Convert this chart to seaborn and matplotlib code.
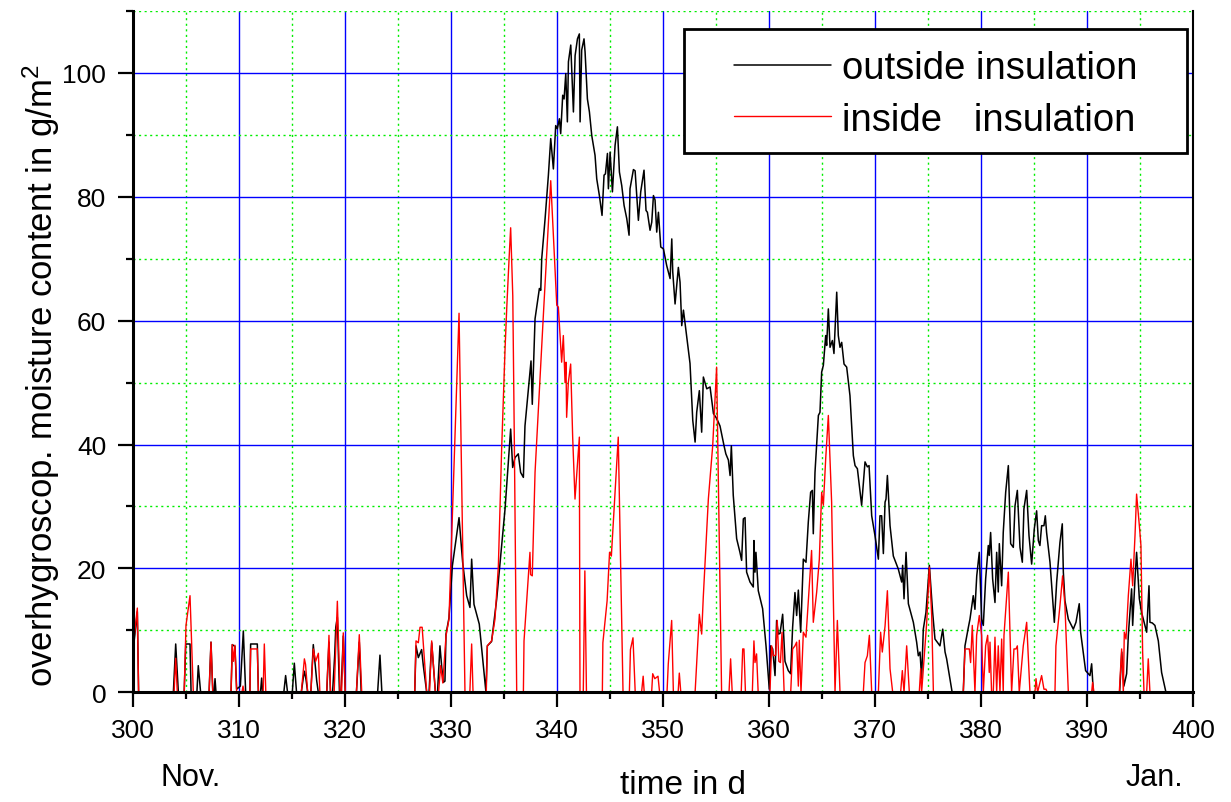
import matplotlib
matplotlib.use("Agg")
import matplotlib.pyplot as plt
from matplotlib.ticker import MultipleLocator
from matplotlib.patches import Rectangle
import seaborn as sns
import pandas as pd

# moisture content outside the insulation layer (day, g/m2)
outside_day = [
    300.0, 300.38, 300.5, 303.78, 304.0, 304.25, 304.8, 304.95, 305.35, 305.45,
    306.0, 306.13, 306.35, 307.15, 307.33, 307.5, 307.62, 307.71, 307.8, 309.22,
    309.34, 309.59, 309.75, 310.1, 310.38, 310.6, 311.0, 311.07, 311.7, 311.8,
    312.0, 312.11, 312.2, 314.2, 314.37, 314.55, 315.0, 315.19, 315.4, 315.85,
    316.05, 316.15, 316.3, 316.45, 316.75, 316.98, 317.3, 317.45, 318.25, 318.46,
    318.6, 318.8, 319.0, 319.1, 319.25, 319.45, 319.6, 319.81, 320.0, 321.05,
    321.32, 321.5, 323.05, 323.27, 323.45, 326.55, 326.67, 326.89, 327.2, 327.36,
    327.68, 327.9, 328.15, 328.5, 328.7, 328.93, 329.1, 329.25, 329.4, 329.5,
    329.78, 330.1, 330.73, 331.07, 331.45, 331.76, 331.92, 332.14, 332.64, 333.27,
    333.4, 333.8, 334.28, 335.07, 335.6, 335.79, 336.01, 336.32, 336.54, 336.8,
    336.95, 337.52, 337.64, 337.9, 338.22, 338.31, 338.44, 338.53, 338.85, 339.16,
    339.38, 339.63, 339.85, 340.0, 340.2, 340.32, 340.51, 340.64, 340.8, 340.95,
    341.05, 341.27, 341.52, 341.68, 341.9, 342.08, 342.15, 342.3, 342.52, 342.62,
    342.84, 343.03, 343.25, 343.56, 343.72, 343.97, 344.22, 344.41, 344.54, 344.73,
    344.82, 344.98, 345.2, 345.45, 345.67, 345.86, 346.08, 346.3, 346.55, 346.77,
    346.86, 347.18, 347.34, 347.49, 347.65, 347.87, 348.18, 348.37, 348.5, 348.75,
    348.91, 349.07, 349.22, 349.38, 349.54, 349.76, 350.01, 350.32, 350.64, 350.8,
    350.89, 351.11, 351.42, 351.58, 351.74, 351.9, 352.15, 352.52, 352.78, 353.0,
    353.15, 353.4, 353.62, 353.78, 354.1, 354.41, 354.73, 355.04, 355.35, 355.73,
    355.9, 356.14, 356.3, 356.42, 356.6, 356.92, 357.23, 357.39, 357.55, 357.71,
    357.86, 358.18, 358.49, 358.55, 358.65, 358.74, 358.96, 359.37, 359.69, 360.0,
    360.13, 360.32, 360.54, 360.69, 360.85, 361.01, 361.26, 361.48, 361.79, 362.01,
    362.2, 362.42, 362.58, 362.74, 362.96, 363.21, 363.46, 363.68, 363.9, 364.06,
    364.15, 364.31, 364.63, 364.78, 364.94, 365.1, 365.32, 365.41, 365.57, 365.73,
    365.95, 366.1, 366.36, 366.51, 366.67, 366.83, 367.05, 367.3, 367.61, 367.93,
    368.09, 368.31, 368.71, 369.03, 369.25, 369.41, 369.66, 369.97, 370.29, 370.44,
    370.6, 370.76, 370.92, 371.01, 371.14, 371.39, 371.7, 372.17, 372.49, 372.58,
    372.71, 372.9, 373.12, 373.59, 373.9, 374.06, 374.22, 374.37, 374.53, 374.78,
    375.1, 375.41, 375.63, 376.1, 376.36, 376.58, 376.73, 377.25, 378.3, 378.46,
    378.78, 378.93, 379.24, 379.4, 379.57, 379.81, 380.03, 380.19, 380.41, 380.66,
    380.75, 380.88, 381.07, 381.29, 381.45, 381.6, 381.7, 381.92, 382.07, 382.3,
    382.55, 382.77, 383.02, 383.18, 383.4, 383.65, 383.87, 384.02, 384.28, 384.5,
    384.75, 385.0, 385.22, 385.38, 385.53, 385.69, 385.91, 386.04, 386.16, 386.48,
    386.89, 387.11, 387.42, 387.64, 387.74, 387.89, 388.21, 388.68, 388.93, 389.24,
    389.37, 389.84, 390.25, 390.41, 390.57, 393.05, 393.25, 393.45, 393.71, 393.87,
    394.18, 394.28, 394.5, 394.65, 394.91, 395.12, 395.44, 395.6, 395.82, 395.91,
    396.13, 396.38, 396.7, 397.01, 397.42, 400.0,
]
outside_val = [
    7, 13, 0, 0, 7.8, 0, 0, 7.8, 7.8, 0,
    0, 4.3, 0, 0, 8.1, 0, 0, 2.2, 0, 0,
    7.7, 7.4, 0.5, 1, 9.9, 0, 0, 7.8, 7.8, 0,
    0, 2.3, 0, 0, 2.7, 0, 0, 4.7, 0, 0,
    2.5, 3.4, 2.0, 0, 0, 7.7, 1.9, 0, 0, 8.1,
    0, 0, 6, 10.5, 12.1, 0, 0, 9.1, 0, 0,
    8.1, 0, 0, 6.0, 0, 0, 7.5, 5.6, 6.9, 4.3,
    0, 0, 8.0, 0, 0, 7.5, 4, 1.6, 1.8, 9.4,
    12, 20.4, 28.2, 21.0, 15.6, 13.7, 21.5, 14.2, 11.0, 0,
    7.5, 8.2, 15.0, 29.6, 42.5, 36.3, 37.9, 38.5, 35.5, 34.7,
    43.0, 53.5, 46.5, 60.3, 64.1, 65.2, 64.9, 70, 76.5, 83.5,
    89.4, 84.5, 91.5, 91.0, 92.6, 90.2, 96.4, 95.8, 99.9, 92.1,
    101.8, 104.5, 93.7, 102.8, 105.5, 106.3, 92.1, 103.7, 105.5, 103.4,
    95.8, 93.7, 89.9, 86.7, 82.9, 80.2, 77.0, 83.5, 83.7, 87.0,
    81.3, 87.2, 80.8, 88.3, 91.3, 84.0, 81.8, 78.6, 76.5, 73.8,
    81.3, 84.4, 84.2, 80.2, 76.2, 80.8, 84.3, 77.8, 77.5, 74.6,
    75.9, 80.2, 79.5, 74.3, 77.5, 71.9, 71.6, 68.9, 66.8, 73.2,
    67.9, 62.7, 68.6, 66.2, 59.2, 61.7, 58.2, 53.1, 43.9, 40.4,
    45.2, 48.7, 42, 50.9, 49, 49.3, 45, 44.2, 43, 39.8,
    38.5, 37.5, 35, 39.8, 31.8, 24.8, 22.6, 21.3, 28, 28.2,
    19.4, 17.8, 17, 24.5, 19.4, 22.6, 16.4, 13.5, 7.5, 0.5,
    7.5, 7, 2.7, 11.6, 9.4, 9.5, 12.6, 5, 3.5, 3,
    10.5, 16.1, 12.4, 16.5, 9.7, 21.5, 21, 27.5, 32.3, 32.6,
    25.6, 35.5, 44.7, 45.2, 51.7, 52.8, 57.6, 56, 61.9, 55.7,
    56.8, 54.7, 64.6, 57.6, 55.7, 56.5, 53, 52.5, 47.9, 38.2,
    36.6, 36.1, 30.2, 37.2, 36.4, 36.6, 28.5, 25.3, 21.5, 28.5,
    28.5, 22.4, 30.7, 31.2, 35, 26.9, 22, 19.9, 17.8, 20.5,
    15.1, 22.6, 14.3, 11.3, 8.1, 5.9, 6.5, 2.2, 10.2, 12.9,
    20.5, 12.9, 8.6, 7.5, 10.2, 6.5, 5.4, 0, 0, 7.5,
    10.5, 11.8, 15.6, 13.4, 18.8, 22.6, 11.8, 10.8, 18.3, 23.7,
    22.1, 25.8, 18.3, 14.5, 22.6, 16.2, 24, 17.2, 25.8, 32.3,
    36.6, 24, 23.4, 30.1, 32.6, 23.4, 21, 29.6, 32.6, 25.3,
    20.7, 26.4, 29.3, 24.5, 23.7, 26.9, 26.9, 28.5, 25.8, 21,
    11.3, 17.8, 24.2, 27.2, 19.4, 14.8, 11.8, 10.2, 11.3, 14.3,
    9.7, 3.5, 2.7, 4.6, 0, 0, 6.5, 1, 3, 9.2,
    16.7, 10.8, 18.3, 22.6, 15.1, 12.9, 10.8, 9.7, 17.2, 11.3,
    11.2, 10.8, 8.3, 3.2, 0, 0,
]

# moisture content inside the insulation layer (day, g/m2)
inside_day = [
    300.0, 300.38, 300.5, 303.85, 304.0, 304.15, 304.8, 304.97, 305.35, 305.66,
    307.15, 307.33, 307.5, 309.22, 309.34, 309.45, 309.59, 309.75, 310.25, 310.35,
    310.45, 311.0, 311.07, 311.7, 311.8, 312.25, 312.36, 312.5, 315.85, 316.14,
    316.25, 316.45, 316.75, 316.98, 317.2, 317.46, 317.6, 318.25, 318.46, 318.6,
    318.95, 319.25, 319.5, 319.65, 319.81, 320.0, 321.05, 321.32, 321.55, 326.55,
    326.67, 326.89, 327.05, 327.25, 327.5, 327.68, 327.95, 328.15, 328.5, 328.8,
    328.99, 329.2, 329.5, 329.78, 330.73, 331.29, 331.75, 331.92, 332.05, 333.3,
    333.4, 333.8, 334.12, 334.44, 334.75, 335.07, 335.23, 335.45, 335.6, 335.8,
    335.95, 336.17, 336.8, 336.86, 337.42, 337.48, 337.64, 337.9, 338.37, 338.72,
    339.38, 339.95, 340.1, 340.41, 340.57, 340.73, 340.82, 340.88, 341.04, 341.26,
    341.45, 341.67, 342.08, 342.14, 342.45, 342.6, 342.75, 344.25, 344.3, 344.7,
    344.93, 345.1, 345.75, 346.2, 346.8, 346.9, 347.14, 347.35, 347.95, 348.1,
    348.2, 348.9, 349.0, 349.2, 349.5, 349.65, 350.35, 350.47, 350.79, 350.95,
    351.4, 351.51, 351.65, 353.0, 353.4, 353.62, 353.77, 354.25, 354.66, 355.03,
    355.5, 356.2, 356.35, 356.5, 357.35, 357.49, 357.61, 357.75, 358.4, 358.55,
    358.65, 358.8, 358.95, 360.06, 360.22, 360.38, 360.6, 360.75, 360.9, 361.05,
    361.2, 361.4, 362.02, 362.2, 362.42, 362.58, 362.74, 362.83, 362.99, 363.21,
    363.46, 363.99, 364.15, 364.47, 364.72, 364.94, 365.1, 365.32, 365.57, 365.88,
    366.2, 366.42, 366.67, 368.87, 369.03, 369.25, 369.44, 369.66, 370.29, 370.5,
    370.66, 370.92, 371.14, 371.39, 371.64, 372.39, 372.55, 372.71, 372.96, 373.21,
    374.15, 374.28, 374.37, 374.85, 375.1, 375.32, 375.48, 378.3, 378.46, 378.87,
    378.99, 379.15, 379.4, 379.56, 379.81, 380.03, 380.19, 380.41, 380.6, 380.75,
    380.82, 380.97, 381.13, 381.29, 381.45, 381.6, 381.76, 381.92, 382.07, 382.14,
    382.55, 382.86, 383.08, 383.27, 383.4, 383.58, 383.96, 384.28, 384.59, 385.06,
    385.16, 385.31, 385.69, 385.91, 386.1, 386.23, 386.95, 387.04, 387.42, 387.67,
    387.89, 388.21, 390.41, 390.5, 390.63, 393.02, 393.24, 393.4, 393.49, 393.65,
    393.87, 394.12, 394.28, 394.5, 394.65, 394.91, 395.06, 395.22, 395.35, 395.6,
    395.75, 395.91, 400.0,
]
inside_val = [
    7.5, 13.6, 0, 0, 5.5, 0, 0, 10.8, 15.6, 0,
    0, 8.1, 0, 0, 7.7, 5, 7.6, 0, 0, 1.0,
    0, 0, 7.0, 7.0, 0, 0, 7.8, 0, 0, 5.4,
    4.5, 0, 0, 7.0, 5.0, 6.3, 0, 0, 9.2, 0,
    0, 14.7, 0, 0, 9.6, 0, 0, 9.3, 0, 0,
    8.3, 8.0, 10.5, 10.5, 4.3, 0, 0, 8.3, 0, 0,
    4.3, 1.5, 9.1, 11.8, 61.2, 0, 0, 7.8, 0, 0,
    7.5, 8.3, 11.8, 20.4, 39.3, 55.4, 62, 70, 75, 64,
    40, 0, 0, 8.3, 22.6, 19, 18.8, 35.5, 50.6, 62,
    82.6, 62.5, 62.2, 53.3, 57.6, 50, 53.3, 44.4, 50, 53,
    41.2, 31.2, 41.2, 0, 0, 19.6, 0, 0, 8, 14.8,
    22.6, 22, 41.2, 0, 0, 6.9, 8.8, 0, 0, 2.6,
    0, 0, 3, 2.2, 2.6, 0, 0, 4.6, 11.6, 0,
    0, 3.1, 0, 0, 12.6, 9.4, 15.3, 31.2, 39.8, 52.5,
    0, 0, 5.4, 0, 0, 7, 7, 0, 0, 8.3,
    4.8, 6.2, 0, 0, 7.5, 5.9, 6, 11.6, 5, 4.8,
    9.7, 0, 0, 7, 7.5, 8.1, 1, 8.4, 0, 9.7,
    8.9, 22.9, 11.3, 16.2, 21.5, 32.3, 30.2, 37.7, 44.7, 30.7,
    0, 11.6, 0, 0, 4.8, 5.9, 9.2, 0, 0, 9.7,
    6.5, 10.7, 16.4, 3.8, 0, 0, 3.5, 0, 7.5, 0,
    0, 3.8, 0, 11.3, 20.2, 12.4, 0, 0, 7, 7,
    4.8, 10.8, 0, 9.2, 12.4, 9.2, 0, 7.5, 9.2, 3.2,
    8.1, 0, 0, 8.9, 0, 7.5, 0, 8.6, 0, 9.2,
    19.4, 0, 7, 7, 7.5, 0, 7.5, 11.3, 0, 0,
    2.2, 0, 2.7, 0.5, 0.5, 0, 0, 7.5, 14, 18.8,
    14, 0, 0, 1.6, 0, 0, 7, 0, 9.7, 8.6,
    15.6, 21.5, 17.2, 25.3, 32, 26.9, 23.7, 6.5, 0, 0,
    5.4, 0, 0,
]

series_labels = ["outside insulation", "inside   insulation"]
x_ticks = list(range(300, 401, 10))
y_ticks = list(range(0, 101, 20))

sns.set_style("ticks")
plt.rcParams["font.family"] = ["Liberation Sans", "DejaVu Sans"]
plt.rcParams["mathtext.fontset"] = "custom"
plt.rcParams["mathtext.rm"] = "Liberation Sans"
plt.rcParams["mathtext.it"] = "Liberation Sans:italic"
plt.rcParams["text.color"] = "black"
plt.rcParams["axes.labelcolor"] = "black"

df_out = pd.DataFrame({"day": outside_day, "value": outside_val})
df_in = pd.DataFrame({"day": inside_day, "value": inside_val})

W, H = 1231, 803
fig = plt.figure(figsize=(W / 100, H / 100), dpi=100)
left_px, right_px, bottom_px, top_px = 133.3, 1193.3, 693.3, 12
ax = fig.add_axes([left_px / W, 1 - bottom_px / H,
                   (right_px - left_px) / W, (bottom_px - top_px) / H])

sns.lineplot(data=df_out, x="day", y="value", ax=ax, color="black",
             linewidth=1.1, estimator=None, sort=False, label=series_labels[0])
sns.lineplot(data=df_in, x="day", y="value", ax=ax, color="#FF0000",
             linewidth=1.0, estimator=None, sort=False, label=series_labels[1])

ax.set_xlim(300, 400)
ax.set_ylim(0, 110)
ax.set_xticks(x_ticks)
ax.set_yticks(y_ticks)
ax.xaxis.set_minor_locator(MultipleLocator(5))
ax.yaxis.set_minor_locator(MultipleLocator(10))

ax.set_axisbelow(True)
ax.grid(which="major", color="#0000FF", linewidth=1.0, linestyle="-")
ax.grid(which="minor", color="#00EE00", linewidth=1.0, linestyle=(0, (1.5, 2.5)))

for side in ("left", "bottom"):
    ax.spines[side].set_linewidth(2.2)
    ax.spines[side].set_color("black")
ax.spines["right"].set_visible(True)
ax.spines["right"].set_linewidth(1.5)
ax.spines["right"].set_color("black")
ax.spines["top"].set_visible(False)

ax.tick_params(which="major", direction="out", length=10.5, width=1.6,
               labelsize=19, colors="black")
ax.tick_params(axis="x", which="major", pad=8)
ax.tick_params(axis="y", which="major", pad=9)
ax.tick_params(which="minor", direction="out", length=5, width=1.6,
               colors="black")
ax.tick_params(right=False, top=False, which="both")

ax.set_xlabel("")
ax.set_ylabel("")

# axis titles and month marks
fig.text(41 / W, 1 - 376 / H,
         r"overhygroscop. moisture content in g/m$^\mathregular{2}$",
         rotation=90, ha="center", va="center", fontsize=25, color="black")
fig.text(683 / W, 1 - 786 / H, "time in d", ha="center", va="center",
         fontsize=24, color="black")
fig.text(191 / W, 1 - 778 / H, "Nov.", ha="center", va="center",
         fontsize=22, color="black")
fig.text(1154 / W, 1 - 778 / H, "Jan.", ha="center", va="center",
         fontsize=22, color="black")

# legend with a square black frame
ax.get_legend().remove()
handles, labels = ax.get_legend_handles_labels()
leg = fig.legend(handles, labels, loc="center left",
                 bbox_to_anchor=(734 / W, 1 - 95 / H),
                 frameon=False, fontsize=27.5, handlelength=2.55,
                 handletextpad=0.29, labelspacing=0.4, borderpad=0,
                 borderaxespad=0)
for t in leg.get_texts():
    t.set_color("black")
fig.patches.append(Rectangle((684 / W, 1 - 154 / H), (1187 - 684) / W,
                             (154 - 30) / H, transform=fig.transFigure,
                             facecolor="white", edgecolor="black",
                             linewidth=2, zorder=2))
leg.set_zorder(3)

fig.savefig("out.png", dpi=100)
